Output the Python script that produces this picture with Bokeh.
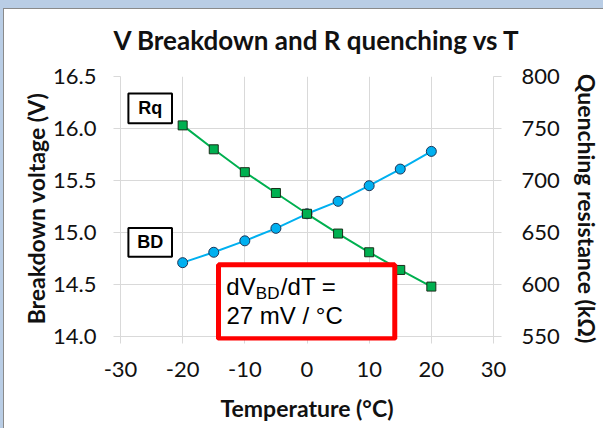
from bokeh.plotting import figure
from bokeh.models import (LinearAxis, Range1d, FixedTicker, BoxAnnotation, Label, NumeralTickFormatter, Div)
from bokeh.layouts import column
from bokeh.embed import file_html
from bokeh.resources import INLINE

# ---- data ----
temps = [-20, -15, -10, -5, 0, 5, 10, 15, 20]
v_bd = [14.71, 14.81, 14.92, 15.04, 15.18, 15.30, 15.45, 15.61, 15.78]
r_q = [753, 730, 708, 688, 668, 649, 631, 614, 598]
x_ticks = [-30, -20, -10, 0, 10, 20, 30]
x_tick_labels = ["-30", "-20", "-10", "0", "10", "20", "30"]
y_ticks = [14.0, 14.5, 15.0, 15.5, 16.0, 16.5]
y2_ticks = [550, 600, 650, 700, 750, 800]
title_text = "V Breakdown and R quenching vs T"
x_label = "Temperature (°C)"
y_label = "Breakdown voltage (V)"
y2_label = "Quenching resistance (kΩ)"
slope_line1 = ("dV", "BD", "/dT =")
slope_line2 = "27 mV / °C"

GRID = "#d9d9d9"
TXT = "#111111"
FONT = "Lato"
AF = "Liberation Sans"
BAND = "#b9cde5"
BAND_LINE = "#8a8a8a"

W, H = 603, 428

# frame runs 4 px below the 14.0 grid line so the slope box is not clipped
p = figure(width=W, height=H, x_range=Range1d(-30, 30), y_range=Range1d(13.9617, 16.5),
           output_backend="svg", toolbar_location=None,
           min_border_left=120, min_border_right=106, min_border_top=75, min_border_bottom=88)
p.extra_y_ranges = {"rq": Range1d(546.17, 800)}
p.outline_line_color = None
p.background_fill_color = "white"
p.border_fill_color = "white"
p.border_fill_alpha = 0
p.margin = (-H, 0, 0, 0)

p.title.text = title_text
p.title.text_font = FONT
p.title.text_font_style = "bold"
p.title.text_font_size = "26px"
p.title.text_color = TXT
p.title.align = "left"
p.title.offset = -7
p.title.standoff = 42

left = p.yaxis[0]
bottom = p.xaxis[0]
bottom.ticker = FixedTicker(ticks=x_ticks)
bottom.major_label_overrides = {t: s for t, s in zip(x_ticks, x_tick_labels)}
left.ticker = FixedTicker(ticks=y_ticks)
left.formatter = NumeralTickFormatter(format="0.0")
p.xgrid.ticker = FixedTicker(ticks=x_ticks)
p.ygrid.ticker = FixedTicker(ticks=y_ticks)
p.grid.grid_line_color = GRID
p.grid.grid_line_width = 1

right = LinearAxis(y_range_name="rq", ticker=FixedTicker(ticks=y2_ticks))
p.add_layout(right, "right")

bottom.axis_label = x_label
left.axis_label = y_label
right.axis_label = y2_label

for ax in [bottom, left, right]:
    ax.axis_line_color = GRID
    ax.major_tick_line_color = GRID
    ax.major_tick_out = 7
    ax.major_tick_in = 0
    ax.minor_tick_line_color = None
    ax.major_label_text_font = FONT
    ax.major_label_text_font_size = "22px"
    ax.major_label_text_color = TXT
    ax.axis_label_text_font = FONT
    ax.axis_label_text_font_style = "bold"
    ax.axis_label_text_font_size = "23px"
    ax.axis_label_text_color = TXT

left.major_label_standoff = 17
left.axis_label_standoff = 0
right.major_tick_out = 8
right.major_label_standoff = 20
right.axis_label_standoff = 10
bottom.axis_line_color = None
bottom.major_tick_out = 3
bottom.major_tick_in = 4
bottom.major_label_standoff = 18
bottom.axis_label_standoff = 14

# ---- series ----
BLUE = "#00b0f0"
GREEN = "#00b050"
p.line(temps, v_bd, line_color=BLUE, line_width=2)
p.scatter(temps, v_bd, marker="circle", size=10, fill_color=BLUE, line_color="#1d3557", line_width=1)
p.line(temps, r_q, line_color=GREEN, line_width=2, y_range_name="rq")
p.scatter(temps, r_q, marker="square", size=9, fill_color=GREEN, line_color="#1a2e1a", line_width=1,
          y_range_name="rq")

# ---- series tags ----
for (l, r, t, b, txt) in [(-28.73, -21.72, 16.337, 16.05, "Rq"), (-28.73, -21.72, 15.044, 14.766, "BD")]:
    p.add_layout(BoxAnnotation(left=l, right=r, top=t, bottom=b, fill_color="white", fill_alpha=1,
                               line_color="black", line_alpha=1, line_width=2))
    p.add_layout(Label(x=(l + r) / 2, y=(t + b) / 2, text=txt, text_align="center", text_baseline="middle",
                       text_font=AF, text_font_style="bold", text_font_size="18px",
                       text_color="black"))

# ---- slope box ----
tx, y1 = -12.97, 14.479
p.add_layout(Label(x=-14.24, y=14.689, text=slope_line2, text_font=AF, text_font_size="24px",
                   text_align="left", text_baseline="top", text_color="black",
                   background_fill_color="white", background_fill_alpha=1,
                   border_line_color="#ff0000", border_line_width=5, border_line_alpha=1,
                   padding=dict(left=8, right=52, top=37, bottom=10)))
p.add_layout(Label(x=tx, y=y1, text=slope_line1[0], text_font=AF, text_font_size="24px",
                   text_baseline="alphabetic", text_color="black"))
p.add_layout(Label(x=tx, y=y1, x_offset=29.5, y_offset=-7, text=slope_line1[1], text_font=AF,
                   text_font_size="17px", text_baseline="alphabetic", text_color="black"))
p.add_layout(Label(x=tx, y=y1, x_offset=54.5, text=slope_line1[2], text_font=AF, text_font_size="24px",
                   text_baseline="alphabetic", text_color="black"))

# slide frame band behind the (transparent-bordered) figure
band = Div(text="", width=W, height=H, margin=0,
           styles={"background-color": "white",
                   "border-top": f"8px solid {BAND}", "border-left": f"3px solid {BAND}",
                   "box-shadow": f"inset 1px 1px 0 {BAND_LINE}", "box-sizing": "border-box"})
layout = column(band, p, spacing=0)

open("out.html", "w").write(file_html(layout, INLINE))
